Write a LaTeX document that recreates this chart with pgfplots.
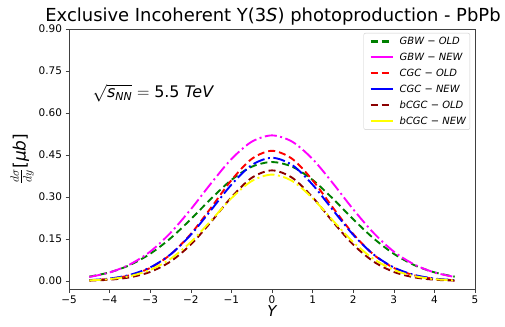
\documentclass[border=0pt]{standalone}
\usepackage{pgfplots}
\pgfplotsset{compat=1.18}
\usepackage{fontspec}
\setmainfont{DejaVu Sans}
\definecolor{mgreen}{RGB}{0,128,0}
\definecolor{mdred}{RGB}{139,0,0}
\definecolor{mmag}{RGB}{255,0,255}
\definecolor{mred}{RGB}{255,0,0}
\definecolor{mblue}{RGB}{0,0,255}
\definecolor{myellow}{RGB}{255,255,0}
\pgfplotsset{
  oldleg/.style={legend image code/.code={\path[draw=none] (-5bp,0bp) -- (27bp,0bp); \draw[##1, line width=2.2pt, dash pattern=on 7bp off 4bp] (0bp,0bp) -- (22bp,0bp);}},
  newleg/.style={legend image code/.code={\path[draw=none] (-5bp,0bp) -- (27bp,0bp); \draw[##1, line width=2.2pt, solid] (0bp,0bp) -- (22bp,0bp);}},
}
\begin{document}
\begin{tikzpicture}[x=1bp,y=1bp]
\begin{axis}[
  name=ax,
  width=406bp, height=260bp, scale only axis,
  xmin=-5, xmax=5, ymin=-0.0286, ymax=0.9,
  xtick={-5,-4,-3,-2,-1,0,1,2,3,4,5},
  xticklabels={−5,−4,−3,−2,−1,0,1,2,3,4,5},
  ytick={0,0.15,0.30,0.45,0.60,0.75,0.90},
  yticklabel style={/pgf/number format/.cd,fixed,fixed zerofill,precision=2},
  /pgf/number format/assume math mode=true,
  tick label style={font=\fontsize{10.5}{12}\selectfont},
  tick align=outside, tick pos=left,
  major tick length=3.5bp,
  axis line style={draw=black!75},
  every tick/.style={black!75},
  xlabel={\fontsize{15}{16}\selectfont\itshape Y},
  xlabel style={yshift=5bp},
  ylabel={\fontsize{17}{18}\selectfont $\frac{d\sigma}{dy}$[\textit{μb}]},
  ylabel style={yshift=-2bp},
  title={\fontsize{18}{20}\selectfont Exclusive Incoherent Υ(3\textit{S}) photoproduction - PbPb},
  title style={yshift=-6bp, xshift=1bp},
  legend style={at={(0.988,0.985)}, anchor=north east, font=\fontsize{10}{12}\selectfont\itshape, draw=black!20, rounded corners=2pt, inner sep=2pt, row sep=3pt},
  legend cell align=left,
  every axis plot/.append style={line width=1.9pt, smooth},
]
\addplot[mgreen, dash pattern=on 7bp off 4bp, oldleg] coordinates {
(-4.5,0.0154)(-4,0.0309)(-3.5,0.0570)(-3,0.0972)(-2.5,0.1525)(-2,0.2205)(-1.5,0.294)(-1,0.361)(-0.5,0.408)(0,0.425)
(0.5,0.408)(1,0.361)(1.5,0.294)(2,0.2205)(2.5,0.1525)(3,0.0972)(3.5,0.0570)(4,0.0309)(4.5,0.0154)};
\addlegendentry{GBW − OLD}
\addplot[mmag, dash pattern=on 12bp off 3.5bp on 2bp off 3.5bp, newleg] coordinates {
(-4.5,0.0144)(-4,0.0305)(-3.5,0.0593)(-3,0.105)(-2.5,0.172)(-2,0.256)(-1.5,0.349)(-1,0.4355)(-0.5,0.4974)(0,0.520)
(0.5,0.4974)(1,0.4355)(1.5,0.349)(2,0.256)(2.5,0.172)(3,0.105)(3.5,0.0593)(4,0.0305)(4.5,0.0144)};
\addlegendentry{GBW − NEW}
\addplot[mred, dash pattern=on 7bp off 4bp, oldleg] coordinates {
(-4.5,0.0027)(-4,0.0079)(-3.5,0.0204)(-3,0.0468)(-2.5,0.0944)(-2,0.168)(-1.5,0.262)(-1,0.360)(-0.5,0.436)(0,0.465)
(0.5,0.436)(1,0.360)(1.5,0.262)(2,0.168)(2.5,0.0944)(3,0.0468)(3.5,0.0204)(4,0.0079)(4.5,0.0027)};
\addlegendentry{CGC − OLD}
\addplot[mblue, dash pattern=on 12bp off 3.5bp on 2bp off 3.5bp, newleg] coordinates {
(-4.5,0.0031)(-4,0.0087)(-3.5,0.0219)(-3,0.0484)(-2.5,0.095)(-2,0.165)(-1.5,0.2535)(-1,0.344)(-0.5,0.414)(0,0.440)
(0.5,0.414)(1,0.344)(1.5,0.2535)(2,0.165)(2.5,0.095)(3,0.0484)(3.5,0.0219)(4,0.0087)(4.5,0.0031)};
\addlegendentry{CGC − NEW}
\addplot[mdred, dash pattern=on 7bp off 4bp, oldleg] coordinates {
(-4.5,0.0014)(-4,0.0046)(-3.5,0.0131)(-3,0.0324)(-2.5,0.0696)(-2,0.130)(-1.5,0.2114)(-1,0.299)(-0.5,0.3685)(0,0.395)
(0.5,0.3685)(1,0.299)(1.5,0.2114)(2,0.130)(2.5,0.0696)(3,0.0324)(3.5,0.0131)(4,0.0046)(4.5,0.0014)};
\addlegendentry{bCGC − OLD}
\addplot[myellow, dash pattern=on 12bp off 3.5bp on 2bp off 3.5bp, newleg] coordinates {
(-4.5,0.0023)(-4,0.0068)(-3.5,0.0175)(-3,0.0396)(-2.5,0.079)(-2,0.139)(-1.5,0.216)(-1,0.2956)(-0.5,0.357)(0,0.380)
(0.5,0.357)(1,0.2956)(1.5,0.216)(2,0.139)(2.5,0.079)(3,0.0396)(3.5,0.0175)(4,0.0068)(4.5,0.0023)};
\addlegendentry{bCGC − NEW}
\node[anchor=west, inner sep=0pt, font=\fontsize{16}{18}\selectfont] at (axis cs:-4.42,0.67) {$\sqrt{\mbox{\itshape s}_{\mbox{\fontsize{11}{12}\selectfont\itshape NN}}} = \mbox{5.5 \itshape TeV}$};
\end{axis}
\pgfresetboundingbox
\path[use as bounding box] ([xshift=-69bp,yshift=-37bp]ax.south west) rectangle ([xshift=30bp,yshift=29bp]ax.north east);
\end{tikzpicture}
\end{document}
